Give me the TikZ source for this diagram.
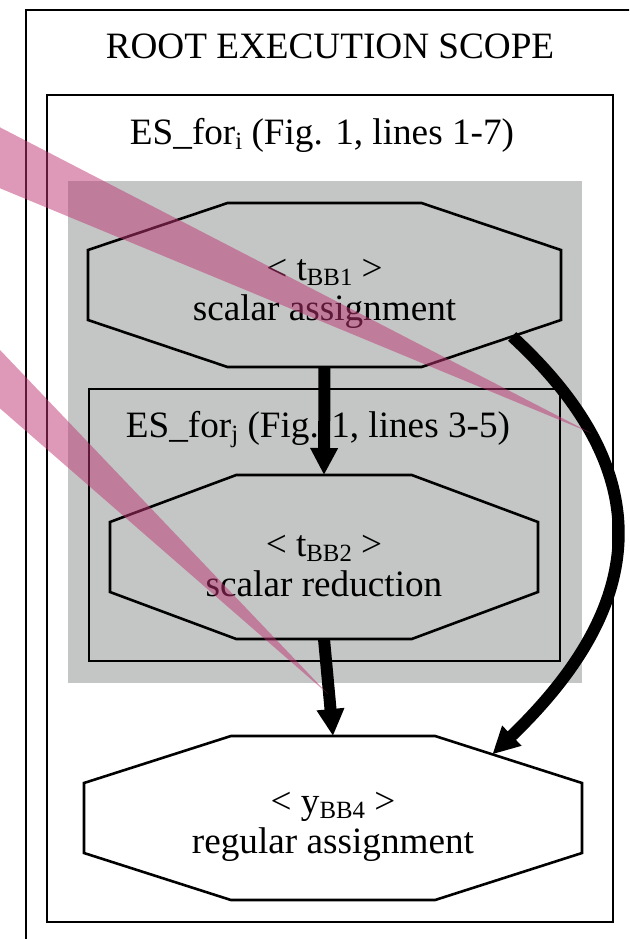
\documentclass[tikz,border=0pt]{standalone}
\usepackage{fontspec}
\setmainfont{Liberation Serif}
\usetikzlibrary{arrows.meta,calc}

\definecolor{scopegray}{RGB}{196,198,197}
\definecolor{notepink}{RGB}{190,52,114}

\newcommand{\bbsub}[1]{\raisebox{-2.5pt}{\fontsize{12.4}{13}\selectfont #1}}

\tikzset{
  pics/bb_node/.style args={#1,#2,#3}{
     code={
        \draw (-#2,-35) -- (-0.41*#2,-82) -- (0.41*#2,-82) -- (#2,-35) -- (#2,35) -- (0.41*#2,82) -- (-0.41*#2,82) -- (-#2,35) -- cycle;
        \coordinate (#1-n) at (0,-82);
        \coordinate (#1-s) at (0,82);
        \coordinate (#1-ne) at (0.41*#2,-82);
        \coordinate (#1-en) at (#2,-35);
        \coordinate (#1-es) at (#2,35);
        \coordinate (#1-se) at (0.41*#2,82);
        \node[align=center] (#1) at (0,9) {#3};
     }
  },
  dep/.style={line width=6pt, -{Triangle[width=13pt,length=13.5pt]}}
}

\begin{document}
\fontsize{18.6}{20}\selectfont
\begin{tikzpicture}[x=0.5pt,y=-0.5pt,line width=1.3pt]
            \useasboundingbox (0,0) rectangle (629,939);
            \clip (0,0) rectangle (629,939);
            \draw (26,10) rectangle (660,980);
            \node[anchor=base] (root) at (330,58) {ROOT EXECUTION SCOPE};
            \draw (47,95) rectangle (613,922);
            \node[anchor=base] (es_i) at (322,144) {ES\_for\bbsub{i} (Fig. 1, lines 1-7)};
            \fill[scopegray] (68,181) rectangle (582,683);
            \draw (89,389) rectangle (560,661);
            \node[anchor=base] (es_j) at (318,437) {ES\_for\bbsub{j} (Fig. 1, lines 3-5)};
            \draw (324.5,285) pic{bb_node={BB1,236.5,{< t\bbsub{BB1} >\\scalar assignment}}};
            \draw (324,557) pic{bb_node={BB2,214,{< t\bbsub{BB2} >\\scalar reduction}}};
            \draw (333,818) pic{bb_node={BB4,249,{< y\bbsub{BB4} >\\regular assignment}}};
            \draw[dep] (BB1-s) -- (BB2-n);
            \draw[dep] (BB2-s) -- (BB4-n);
            \draw[dep] ($(BB1-es)!0.35!(BB1-se)$) .. controls +(152,140) and +(152,-146) .. ($(BB4-ne)!0.39!(BB4-en)$);
            \fill[notepink, fill opacity=0.5] (-20,117) -- (591,433) -- (-20,180) -- cycle;
            \fill[notepink, fill opacity=0.5] (-20,329) -- (328,694) -- (-20,391) -- cycle;
        \end{tikzpicture}
\end{document}
